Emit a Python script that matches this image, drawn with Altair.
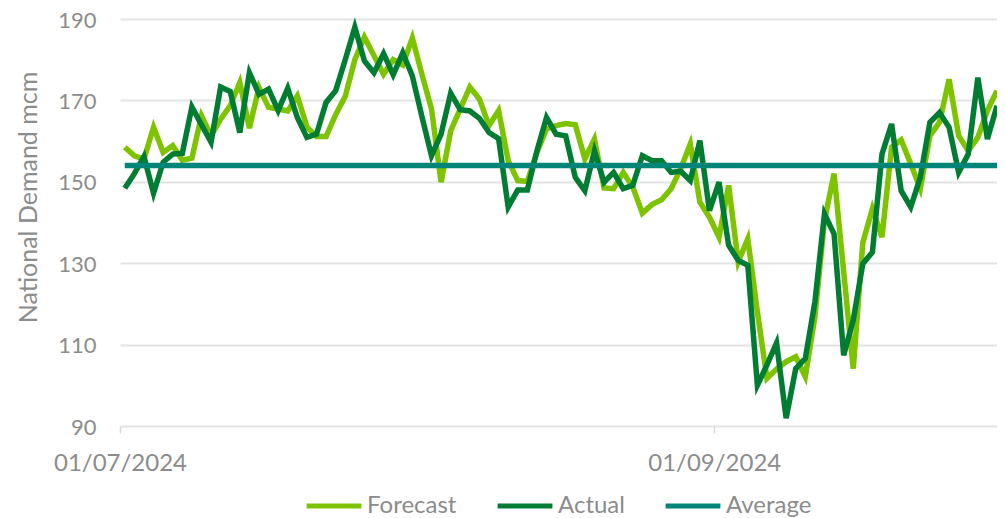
import altair as alt
import pandas as pd

# ---- data ----
start_date = "2024-07-01 12:00"
series_names = ["Forecast", "Actual", "Average"]
series_colors = ["#7DC300", "#007D32", "#008578"]

forecast = [158.5, 156.4, 155.6, 163.4, 157.2, 158.9, 155.3, 155.8, 166.2, 161.3,
            165.4, 168.7, 174.4, 163.2, 173.2, 168.3, 167.9, 167.4, 171.1, 163.5,
            161.1, 161.1, 166.5, 171.0, 180.0, 185.6, 181.0, 176.4, 180.0, 178.7,
            185.3, 176.4, 167.9, 149.9, 162.5, 167.9, 173.3, 170.3, 163.8, 167.5,
            155.2, 150.3, 150.1, 157.2, 163.0, 163.8, 164.3, 164.0, 155.6, 160.5,
            148.5, 148.3, 152.3, 148.7, 142.3, 144.4, 145.6, 148.3, 153.2, 159.3,
            145.0, 141.3, 136.4, 149.1, 130.3, 136.0, 118.0, 101.7, 104.0, 105.8,
            107.0, 102.1, 116.8, 140.5, 152.0, 128.0, 104.1, 135.0, 143.4, 136.4,
            158.5, 160.3, 154.4, 148.3, 161.3, 164.6, 175.2, 161.3, 157.6, 160.9,
            167.5, 172.4]

actual = [148.4, 152.0, 156.2, 147.2, 154.8, 156.8, 157.0, 168.4, 164.0, 159.7,
          173.3, 172.2, 162.1, 176.8, 171.5, 172.8, 167.5, 173.0, 165.8, 160.9,
          161.7, 169.5, 172.4, 180.0, 188.0, 179.7, 176.8, 181.5, 176.3, 181.7,
          176.0, 166.0, 156.4, 161.7, 171.8, 167.7, 167.4, 165.6, 162.1, 160.6,
          143.8, 148.0, 148.0, 157.6, 165.8, 161.7, 161.3, 151.1, 147.8, 157.6,
          149.9, 152.3, 148.3, 149.1, 156.4, 155.2, 155.2, 152.3, 152.6, 150.3,
          160.1, 142.9, 149.9, 134.4, 130.7, 129.5, 100.0, 105.0, 110.4, 91.9,
          104.1, 106.6, 120.5, 142.1, 137.2, 107.4, 116.0, 129.9, 132.7, 156.8,
          164.2, 147.8, 143.8, 151.1, 164.6, 167.0, 163.4, 152.3, 156.8, 175.6,
          160.5, 168.7]

average_value = 154.0
y_ticks = [90, 110, 130, 150, 170, 190]

# ---- build long table ----
dates = pd.date_range(start_date, periods=len(actual), freq="D")
rows = []
for d, f, a in zip(dates, forecast, actual):
    s = d.strftime("%Y-%m-%dT%H:%M:%S")
    rows.append({"date": s, "series": "Forecast", "value": f})
    rows.append({"date": s, "series": "Actual", "value": a})
    rows.append({"date": s, "series": "Average", "value": average_value})
df = pd.DataFrame(rows)

gray = "#8c8c8c"
FONT = "Lato"

x_enc = alt.X(
    "date:T",
    scale=alt.Scale(domain=[alt.DateTime(year=2024, month=7, date=1, hours=0),
                            alt.DateTime(year=2024, month=9, date=30, hours=12)]),
    axis=alt.Axis(
        values=[alt.DateTime(year=2024, month=7, date=1),
                alt.DateTime(year=2024, month=9, date=1)],
        format="%d/%m/%Y", title=None, grid=False, domain=False,
        tickSize=7, tickColor="#d9d9d9", tickWidth=1.5,
        labelFlush=False, labelAlign="center",
        labelPadding=18, labelFontSize=24, labelColor=gray, labelFont=FONT,
    ),
)
y_enc = alt.Y(
    "value:Q",
    scale=alt.Scale(domain=[90, 190], nice=False, zero=False),
    axis=alt.Axis(
        values=y_ticks, grid=True, gridColor="#e3e3e3", gridWidth=2,
        domain=False, ticks=False, labelPadding=24, labelFontSize=22,
        labelBaseline="alphabetic", labelOffset=8,
        labelColor=gray, labelFont=FONT,
        title="National Demand mcm", titleFontSize=25, titleFontWeight="normal",
        titleColor=gray, titleFont=FONT, titlePadding=16, titleY=178,
    ),
)
color_enc = alt.Color(
    "series:N",
    scale=alt.Scale(domain=series_names, range=series_colors),
    legend=alt.Legend(
        title=None, orient="none", legendX=184, legendY=457,
        direction="horizontal", symbolType="stroke", symbolStrokeWidth=5,
        symbolSize=3000, labelFontSize=24, labelColor=gray, labelFont=FONT,
        columnPadding=30, labelOffset=3,
    ),
)

base = alt.Chart(df).encode(x=x_enc, y=y_enc, color=color_enc)
layers = [
    base.transform_filter(alt.datum.series == name).mark_line(strokeWidth=5.5)
    for name in series_names
]

chart = alt.layer(*layers).properties(
    width=877, height=407,
    autosize=alt.AutoSizeParams(type="none"),
    padding={"left": 112, "top": 11, "right": 0, "bottom": 92},
).configure(font=FONT).configure_view(stroke=None)

chart.save("out.html", embed_options={"renderer": "svg", "actions": False})
